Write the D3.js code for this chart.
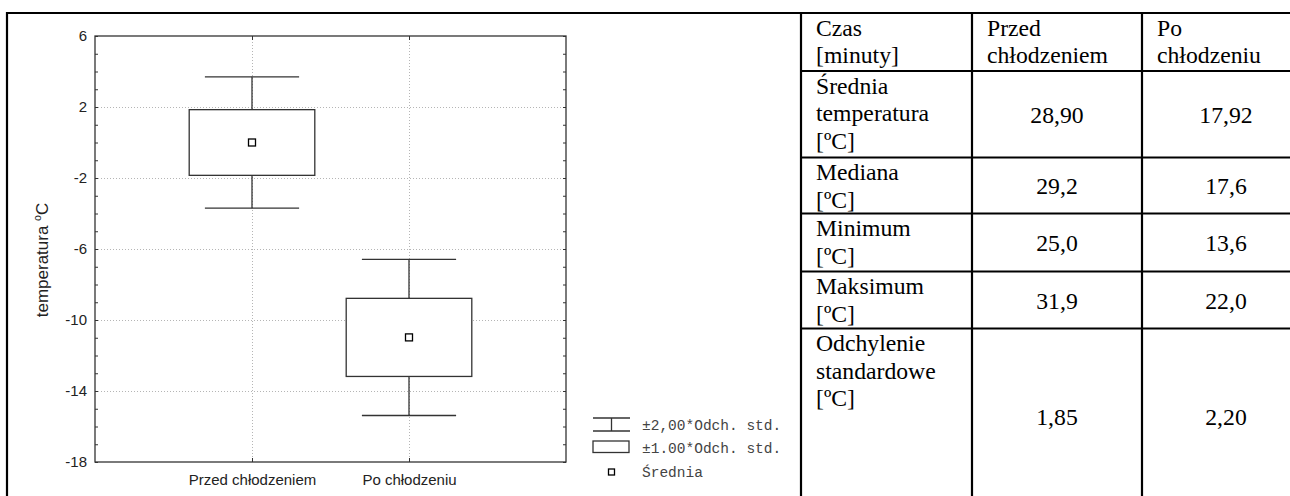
<!DOCTYPE html>
<html>
<head>
<meta charset="utf-8">
<script src="https://cdn.jsdelivr.net/npm/d3@7"></script>
<style>
  body { margin: 0; background: #fff; }
  svg { display: block; }
</style>
</head>
<body>
<svg id="chart" width="1290" height="496"></svg>
<script>
// Box plot data: mean (centred on the first group) with standard deviation
const categories = ["Przed chłodzeniem", "Po chłodzeniu"];
const means = [0.00, -10.98];
const stdDevs = [1.85, 2.20];
const yTicks = [6, 2, -2, -6, -10, -14, -18];
const yTitle = "temperatura ";
const legendLabels = ["±2,00*Odch. std.", "±1.00*Odch. std.", "Średnia"];

// Summary table
const headerLabels = [["Czas", "[minuty]"], ["Przed", "chłodzeniem"], ["Po", "chłodzeniu"]];
const rowLabels = [
  ["Średnia", "temperatura", "[ºC]"],
  ["Mediana", "[ºC]"],
  ["Minimum", "[ºC]"],
  ["Maksimum", "[ºC]"],
  ["Odchylenie", "standardowe", "[ºC]"]
];
const beforeValues = ["28,90", "29,2", "25,0", "31,9", "1,85"];
const afterValues = ["17,92", "17,6", "13,6", "22,0", "2,20"];

const svg = d3.select("#chart");
const axisFont = "'Liberation Sans', Arial, sans-serif";
const monoFont = "'Liberation Mono', 'Courier New', monospace";
const serifFont = "'Liberation Serif', 'Times New Roman', serif";
const ink = "#222";

// ---- plot area ----
const plot = { left: 95, right: 566, top: 36, bottom: 462 };
const y = d3.scaleLinear().domain([-18, 6]).range([plot.bottom, plot.top]);
const x = d3.scalePoint().domain(categories).range([plot.left, plot.right]).padding(1);
const step = x.step();

// grid
const grid = svg.append("g").attr("stroke", "#b5b5b5").attr("stroke-dasharray", "1,2").attr("stroke-width", 1);
grid.selectAll("line.h").data(yTicks.filter(t => t > -18 && t < 6)).join("line")
  .attr("x1", plot.left).attr("x2", plot.right)
  .attr("y1", d => Math.round(y(d)) + 0.5).attr("y2", d => Math.round(y(d)) + 0.5);
grid.selectAll("line.v").data(categories).join("line")
  .attr("y1", plot.top).attr("y2", plot.bottom)
  .attr("x1", d => Math.round(x(d)) + 0.5).attr("x2", d => Math.round(x(d)) + 0.5);

// minor ticks on left and right axes (inward)
const minor = y.ticks(24);
svg.append("g").attr("transform", `translate(${plot.left},0)`)
  .call(d3.axisLeft(y).tickValues(minor).tickSizeInner(-3).tickSizeOuter(0).tickFormat(""))
  .call(g => g.select(".domain").remove())
  .call(g => g.selectAll("line").attr("stroke", "#333"));
svg.append("g").attr("transform", `translate(${plot.right},0)`)
  .call(d3.axisRight(y).tickValues(minor).tickSizeInner(-3).tickSizeOuter(0).tickFormat(""))
  .call(g => g.select(".domain").remove())
  .call(g => g.selectAll("line").attr("stroke", "#333"));
svg.append("g").attr("transform", `translate(0,${plot.top})`)
  .call(d3.axisTop(x).tickSizeInner(-4).tickSizeOuter(0).tickFormat(""))
  .call(g => g.select(".domain").remove())
  .call(g => g.selectAll("line").attr("stroke", "#333"));

// y tick labels (plain hyphen for negatives)
svg.append("g").attr("transform", `translate(${plot.left},0)`)
  .call(d3.axisLeft(y).tickValues(yTicks).tickSize(0).tickPadding(8).tickFormat(d => String(d)))
  .call(g => g.select(".domain").remove())
  .call(g => g.selectAll("text").attr("font-family", axisFont).attr("font-size", 15).attr("fill", ink));

// x axis with category labels
svg.append("g").attr("transform", `translate(0,${plot.bottom})`)
  .call(d3.axisBottom(x).tickSizeInner(-4).tickSizeOuter(0).tickPadding(12))
  .call(g => g.select(".domain").remove())
  .call(g => g.selectAll("line").attr("stroke", "#333"))
  .call(g => g.selectAll("text").attr("font-family", axisFont).attr("font-size", 15).attr("fill", ink));

// plot frame
svg.append("rect")
  .attr("x", plot.left).attr("y", plot.top)
  .attr("width", plot.right - plot.left).attr("height", plot.bottom - plot.top)
  .attr("fill", "none").attr("stroke", "#333").attr("stroke-width", 1.3);

// y title
svg.append("text")
  .attr("transform", `translate(48,260) rotate(-90)`)
  .attr("text-anchor", "middle")
  .attr("font-family", axisFont).attr("font-size", 17).attr("fill", ink)
  .call(t => {
    t.append("tspan").text(yTitle);
    t.append("tspan").attr("font-size", 10.5).attr("dy", -7).text("o");
    t.append("tspan").attr("dy", 7).text("C");
  });

// boxes: ±2 SD whiskers, ±1 SD box, mean marker
const groups = svg.append("g").selectAll("g").data(categories).join("g");
const capW = step * 0.6, boxW = step * 0.8;
groups.append("line")
  .attr("x1", d => x(d)).attr("x2", d => x(d))
  .attr("y1", (d, i) => y(means[i] + 2 * stdDevs[i]))
  .attr("y2", (d, i) => y(means[i] - 2 * stdDevs[i]))
  .attr("stroke", "#333").attr("stroke-width", 1.3);
[2, -2].forEach(k => {
  groups.append("line")
    .attr("x1", d => x(d) - capW / 2).attr("x2", d => x(d) + capW / 2)
    .attr("y1", (d, i) => y(means[i] + k * stdDevs[i]))
    .attr("y2", (d, i) => y(means[i] + k * stdDevs[i]))
    .attr("stroke", "#333").attr("stroke-width", 1.3);
});
groups.append("rect")
  .attr("x", d => x(d) - boxW / 2).attr("width", boxW)
  .attr("y", (d, i) => y(means[i] + stdDevs[i]))
  .attr("height", (d, i) => y(means[i] - stdDevs[i]) - y(means[i] + stdDevs[i]))
  .attr("fill", "#fff").attr("stroke", "#333").attr("stroke-width", 1.3);
groups.append("rect")
  .attr("x", d => x(d) - 3.5).attr("width", 7)
  .attr("y", (d, i) => y(means[i]) - 3.5).attr("height", 7)
  .attr("fill", "#fff").attr("stroke", "#000").attr("stroke-width", 1.3);

// legend
const lg = svg.append("g").attr("transform", "translate(593,418)");
lg.append("line").attr("x1", 0).attr("x2", 37).attr("y1", 0).attr("y2", 0).attr("stroke", "#333").attr("stroke-width", 1.3);
lg.append("line").attr("x1", 0).attr("x2", 37).attr("y1", 13).attr("y2", 13).attr("stroke", "#333").attr("stroke-width", 1.3);
lg.append("line").attr("x1", 18.5).attr("x2", 18.5).attr("y1", 0).attr("y2", 13).attr("stroke", "#333").attr("stroke-width", 1.3);
lg.append("rect").attr("x", 0).attr("y", 23).attr("width", 36).attr("height", 11.5)
  .attr("fill", "#fff").attr("stroke", "#333").attr("stroke-width", 1.3);
lg.append("rect").attr("x", 15.5).attr("y", 51).attr("width", 6).attr("height", 6)
  .attr("fill", "#fff").attr("stroke", "#000").attr("stroke-width", 1.3);
lg.selectAll("text").data(legendLabels).join("text")
  .attr("x", 49).attr("y", (d, i) => 11.5 + i * 23.5)
  .attr("font-family", monoFont).attr("font-size", 14.5).attr("fill", "#444")
  .text(d => d);

// ---- outer frame ----
const frame = svg.append("g").attr("stroke", "#000").attr("stroke-width", 2.2);
frame.append("line").attr("x1", 6).attr("x2", 1290).attr("y1", 13).attr("y2", 13);
frame.append("line").attr("x1", 7).attr("x2", 7).attr("y1", 12).attr("y2", 496);

// ---- table ----
const colX = [801, 972, 1142, 1310];
const rowY = [13, 71, 157.5, 213.5, 271.5, 328.5, 504];
const tbl = svg.append("g");
tbl.selectAll("line.col").data(colX.slice(0, 3)).join("line")
  .attr("x1", d => d).attr("x2", d => d).attr("y1", 12).attr("y2", 496)
  .attr("stroke", "#000").attr("stroke-width", 2.2);
tbl.selectAll("line.row").data(rowY.slice(1, 6)).join("line")
  .attr("x1", colX[0]).attr("x2", 1290).attr("y1", d => d).attr("y2", d => d)
  .attr("stroke", "#000").attr("stroke-width", 2.2);

const lineH = 27.5, pad = 15, fontSize = 23.7;
function multiline(sel, lines, x0, top) {
  sel.selectAll(null).data(lines).join("text")
    .attr("x", x0).attr("y", (d, i) => top + 22.5 + i * lineH)
    .attr("font-family", serifFont).attr("font-size", fontSize).attr("fill", "#000")
    .text(d => d);
}
headerLabels.forEach((lines, c) => multiline(tbl, lines, colX[c] + pad, rowY[0]));
rowLabels.forEach((lines, r) => multiline(tbl, lines, colX[0] + pad, rowY[r + 1]));
[beforeValues, afterValues].forEach((vals, c) => {
  tbl.selectAll(null).data(vals).join("text")
    .attr("x", (colX[c + 1] + colX[c + 2]) / 2)
    .attr("y", (d, r) => (rowY[r + 1] + rowY[r + 2]) / 2 + 8.5)
    .attr("text-anchor", "middle")
    .attr("font-family", serifFont).attr("font-size", fontSize).attr("fill", "#000")
    .text(d => d);
});
</script>
</body>
</html>
